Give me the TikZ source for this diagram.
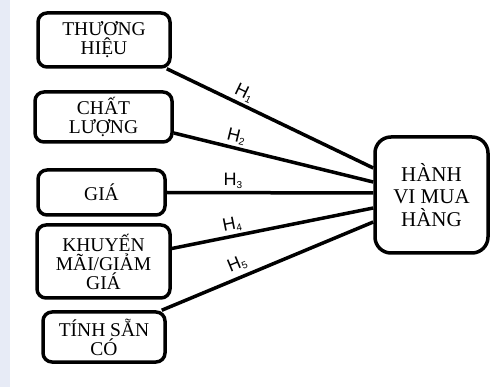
\documentclass[tikz,border=0pt]{standalone}
\usepackage{fontspec}
\setmainfont{Liberation Serif}
\newfontfamily\labfont{Liberation Sans}
\usetikzlibrary{calc}
\definecolor{strip}{HTML}{E7EBF6}
\newcommand{\hsub}[1]{H\raisebox{-0.25ex}{\fontsize{10}{10}\selectfont #1}}
\tikzset{
  box/.style={draw=black, line width=3.5pt, rounded corners=9pt, fill=white,
    align=center, inner sep=0pt, font=\fontsize{19.5}{19}\selectfont},
  bigbox/.style={box, rounded corners=16pt, font=\fontsize{21}{22.5}\selectfont},
  conn/.style={line width=3.5pt},
  hlab/.style={sloped, above, inner sep=2.5pt, font=\labfont\fontsize{18}{18}\selectfont}
}
\begin{document}
\begin{tikzpicture}[x=1pt,y=-1pt]
\useasboundingbox (0,0) rectangle (490,387);
\fill[strip] (0,0) rectangle (10,387);
\node[box, minimum width=132pt, minimum height=54pt] (b1) at (104,40) {THƯƠNG\\HIỆU};
\node[box, minimum width=137pt, minimum height=50pt] (b2) at (103.5,117) {CHẤT\\LƯỢNG};
\node[box, minimum width=127pt, minimum height=45pt] (b3) at (101.5,192.5) {GIÁ};
\node[box, minimum width=133pt, minimum height=73pt] (b4) at (103.5,261.5) {KHUYẾN\\MÃI/GIẢM\\GIÁ};
\node[box, minimum width=122pt, minimum height=50pt] (b5) at (104,337) {TÍNH SẴN\\CÓ};
\node[bigbox, minimum width=113pt, minimum height=116pt] (t) at (431.5,195) {HÀNH\\VI MUA\\HÀNG};
\draw[conn] ($(b1.south east)+(-5,0)$) -- node[hlab, pos=0.35] {\hsub{1}} ($(t.west)+(0,-27)$);
\draw[conn] ($(b2.east)+(0,16)$) -- node[hlab, pos=0.30] {\hsub{2}} ($(t.west)+(0,-13)$);
\draw[conn] (b3.east) -- node[hlab, pos=0.32] {\hsub{3}} ($(t.west)+(0,-2)$);
\draw[conn] ($(b4.east)+(0,-13)$) -- node[hlab, pos=0.31] {\hsub{4}} ($(t.west)+(0,13)$);
\draw[conn] ($(b5.north east)+(-5,0)$) -- node[hlab, pos=0.38, inner sep=4pt] {\hsub{5}} ($(t.west)+(0,27)$);
\end{tikzpicture}
\end{document}
